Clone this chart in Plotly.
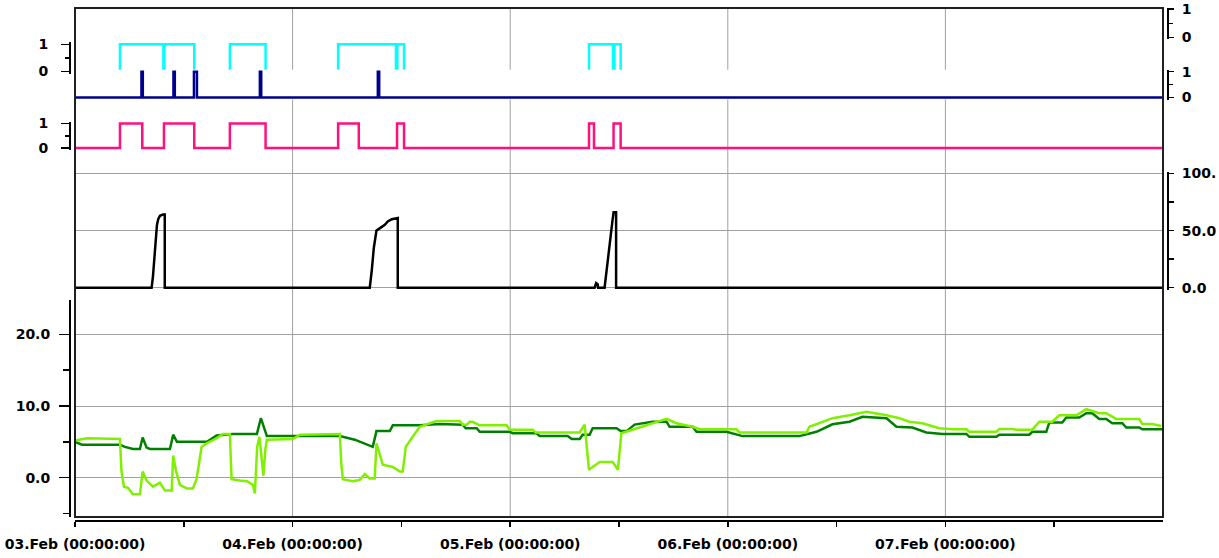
import pandas as pd
import plotly.graph_objects as go

# ---------------- data (hours after 03.Feb 00:00:00) ----------------
START = pd.Timestamp("2010-02-03 00:00:00")
SPAN_HOURS = 120

day_hours = [0, 24, 48, 72, 96]
half_day_hours = [12, 36, 60, 84, 108]

cyan_hours = [0, 4.96, 9.75, 9.85, 13.15, 17.08, 21.02, 29.02, 35.4, 35.55, 36.29,
              56.69, 59.33, 59.5, 60.18, 120]
cyan_state = [0, 1, 0, 1, 0, 1, 0, 1, 0, 1, 0, 1, 0, 1, 0, 0]

navy_hours = [0, 7.33, 7.48, 10.86, 11.01, 13.12, 13.45, 20.39, 20.54, 33.4, 33.55, 120]
navy_state = [0, 1, 0, 1, 0, 1, 0, 1, 0, 1, 0, 0]

pink_hours = [0, 4.96, 7.42, 9.81, 13.15, 17.08, 21.02, 29.02, 31.3, 35.52, 36.29,
              56.69, 57.24, 59.4, 60.18, 120]
pink_state = [0, 1, 0, 1, 0, 1, 0, 1, 0, 1, 0, 1, 0, 1, 0, 0]

black_hours = [0, 8.45, 8.6, 8.82, 9.04, 9.18, 9.37, 9.7, 9.9, 9.9,
               32.51, 32.73, 32.96, 33.25, 33.62, 34.17, 34.5, 34.94, 35.6, 35.6,
               57.31, 57.48, 57.64, 57.7, 58.41, 58.63, 58.86, 59.08, 59.3, 59.41, 59.68, 59.68,
               120]
black_values = [0, 0, 10, 35, 55, 60, 63, 64, 64, 0,
                0, 15, 35, 50, 52, 55, 58, 60, 61, 0,
                0, 4, 3, 0, 0, 15, 35, 50, 60, 66, 66, 0,
                0]

dark_hours = [0, 0.77, 4.96, 5.5, 6.39, 7.16, 7.46, 7.9, 8.27, 10.47, 10.83, 11.24, 14.55,
              15.62, 17.41, 20.06, 20.5, 21.16, 24.03, 29.21, 30.86, 31.96, 32.84, 33.25,
              34.72, 35.05, 38.03, 40.23, 42.76, 43.09, 44.3, 44.64, 47.94, 48.27, 50.92,
              51.25, 54.34, 54.78, 55.66, 55.99, 56.76, 57.09, 59.74, 60.18, 60.84, 61.72,
              63.7, 65.25, 65.58, 68.12, 68.55, 71.86, 72.41, 73.62, 79.91, 81.78, 83.54,
              85.42, 86.85, 89.5, 90.6, 92.36, 93.9, 95.67, 98.31, 98.64, 101.62, 101.95,
              105.26, 105.59, 107.13, 107.46, 108.89, 109.33, 110.77, 111.54, 112.2, 112.97,
              113.74, 114.4, 115.51, 115.95, 117.38, 117.71, 119.92]
dark_values = [5.0, 4.6, 4.6, 4.3, 4.0, 4.0, 5.6, 4.2, 4.0, 4.0, 6.0, 5.0, 5.0,
               5.9, 6.1, 6.1, 8.3, 5.8, 5.8, 5.8, 5.3, 4.7, 4.3, 6.5,
               6.5, 7.3, 7.3, 7.5, 7.4, 6.9, 6.9, 6.4, 6.4, 6.2, 6.2,
               5.8, 5.8, 5.4, 5.4, 6.0, 6.0, 6.9, 6.9, 6.5, 6.5, 7.4,
               7.8, 7.8, 7.1, 7.1, 6.4, 6.4, 6.2, 5.8, 5.8, 6.4, 7.45,
               7.8, 8.5, 8.3, 7.1, 7.0, 6.3, 6.1, 6.1, 5.7, 5.7, 6.0,
               6.0, 6.4, 6.4, 7.7, 7.7, 8.4, 8.4, 9.0, 9.0, 8.2,
               8.2, 7.6, 7.6, 7.0, 7.0, 6.75, 6.75]

light_hours = [0, 1.32, 4.96, 5.12, 5.4, 5.84, 6.39, 7.16, 7.46, 7.9, 8.6, 9.37, 9.92, 10.66,
               10.83, 11.13, 11.57, 12.34, 13.0, 13.41, 13.96, 14.52, 15.62, 16.31, 17.08,
               17.27, 18.19, 18.96, 19.62, 19.84, 20.09, 20.34, 20.56, 20.78, 21.0, 21.16,
               24.03, 24.8, 29.21, 29.37, 29.54, 30.64, 31.41, 31.96, 32.51, 33.06, 33.25,
               33.95, 35.05, 35.82, 36.15, 36.48, 37.25, 38.03, 39.13, 39.9, 42.43, 42.76,
               43.2, 43.54, 43.87, 44.64, 47.61, 47.94, 50.48, 50.81, 55.66, 56.21, 56.69,
               57.86, 59.3, 59.88, 60.26, 61.5, 63.05, 64.15, 65.25, 66.35, 68.12, 68.89,
               72.96, 73.29, 80.68, 81.0, 82.44, 83.54, 85.42, 87.29, 89.5, 90.93, 92.03,
               93.46, 95.34, 96.77, 98.31, 98.64, 101.62, 101.95, 103.38, 103.82, 105.59,
               106.36, 107.79, 108.56, 110.44, 111.54, 112.97, 113.74, 114.84, 117.38,
               117.71, 118.81, 119.8]
light_values = [5.2, 5.5, 5.4, 1.0, -1.25, -1.4, -2.3, -2.3, 0.85, -0.4, -1.25, -0.7, -1.8, -1.8,
                3.1, 1.0, -1.0, -1.5, -1.5, -0.2, 4.3, 4.8, 5.5, 6.1, 6.1,
                -0.2, -0.4, -0.5, -1.0, -2.2, 4.3, 5.7, 3.0, 0.3, 4.0, 5.3,
                5.4, 6.0, 6.1, 2.0, -0.2, -0.5, -0.3, 0.5, -0.1, -0.1, 4.8,
                1.8, 1.5, 0.85, 0.85, 4.3, 5.7, 7.1, 7.6, 7.9, 7.9, 7.4,
                7.4, 7.8, 7.8, 7.3, 7.3, 6.7, 6.7, 6.3, 6.3, 7.4, 1.1,
                2.2, 2.2, 1.1, 6.2, 6.7, 7.4, 7.8, 8.2, 7.6, 7.1, 6.75,
                6.75, 6.3, 6.3, 7.1, 7.8, 8.3, 8.7, 9.2, 8.7, 8.3, 7.8,
                7.6, 6.9, 6.75, 6.75, 6.4, 6.4, 6.8, 6.8, 6.7, 6.7,
                7.8, 7.8, 8.7, 8.7, 9.55, 9.0, 9.0, 8.2, 8.2,
                7.5, 7.5, 7.2]

bottom_ticks = [0, 10, 20]
bottom_ticktext = ["0.0", "10.0", "20.0"]
bottom_minor = [-5, 5, 15]
valve_ticks = [0, 50, 100]
valve_ticktext = ["0.0", "50.0", "100."]
valve_minor = [25, 75]
state_ticks = [0, 1]
state_ticktext = ["0", "1"]


def to_time(hours):
    return [START + pd.Timedelta(hours=h) for h in hours]


# ---------------- layout geometry (page pixels; page body margin removed) ----------------
W, H = 1219, 558
PLOT_L, PLOT_R, PLOT_T, PLOT_B = 70, 1168, 8, 521     # page px of the axes area
ML, MR, MT, MB = PLOT_L, W - PLOT_R, PLOT_T, H - PLOT_B
PH = PLOT_B - PLOT_T
PW = PLOT_R - PLOT_L


def ypaper(px):
    return (PLOT_B - px) / PH


def band(px_lo, px_hi, v_lo, v_hi, pad=2.0):
    """domain / range so that v_lo sits at pixel row px_lo and v_hi at px_hi"""
    scale = (px_lo - px_hi) / (v_hi - v_lo)
    d0 = max(0.0, ypaper(px_lo + pad))
    d1 = min(1.0, ypaper(px_hi - pad))
    r0 = v_lo - (ypaper(px_lo) - d0) * PH / scale
    r1 = v_hi + (d1 - ypaper(px_hi)) * PH / scale
    return [d0, d1], [r0, r1]


FONT = dict(family="DejaVu Sans", size=14, color="black", weight="bold")
GRID = "#a0a0a0"

fig = go.Figure()

fig.add_trace(go.Scatter(x=to_time(dark_hours), y=dark_values, mode="lines",
                         line=dict(color="#008000", width=2.5), yaxis="y"))
fig.add_trace(go.Scatter(x=to_time(light_hours), y=light_values, mode="lines",
                         line=dict(color="#80f000", width=2.5), yaxis="y"))
fig.add_trace(go.Scatter(x=to_time(black_hours), y=black_values, mode="lines",
                         line=dict(color="black", width=2.5), yaxis="y2"))
fig.add_trace(go.Scatter(x=to_time(pink_hours), y=pink_state, mode="lines",
                         line=dict(color="#ff1080", width=2.5, shape="hv"), yaxis="y3"))
fig.add_trace(go.Scatter(x=to_time(navy_hours), y=navy_state, mode="lines",
                         line=dict(color="#000090", width=2.5, shape="hv"), yaxis="y5"))
fig.add_trace(go.Scatter(x=to_time(cyan_hours), y=cyan_state, mode="lines",
                         line=dict(color="#00ffff", width=2.5, shape="hv"), yaxis="y4"))
fig.add_trace(go.Scatter(x=[None], y=[None], mode="lines", yaxis="y6"))

dom_g = [ypaper(517), ypaper(300)]
scale_g = (477.7 - 334.3) / 20
rng_g = [-(517 - 477.7) / scale_g, (477.7 - 300) / scale_g]
dom_b, rng_b = band(287.7, 173.5, 0, 100)
dom_p, rng_p = band(148, 123.5, 0, 1)
dom_c, rng_c = band(71.5, 44.3, 0, 1)
dom_n, rng_n = band(97.5, 71.7, 0, 1)
dom_t, rng_t = band(37.5, 9.0, 0, 1, pad=1.0)


def yax(domain, rng, side, tickvals, ticktext, minor_vals, ticklen, minorlen, grid, standoff):
    return dict(domain=domain, range=rng, anchor="free", position=0 if side == "left" else 1,
                side=side, showline=True, linecolor="black", linewidth=2,
                ticks="outside", ticklen=ticklen, tickwidth=1.5, tickcolor="black",
                tickmode="array", tickvals=tickvals, ticktext=ticktext,
                minor=dict(tickmode="array", tickvals=minor_vals, ticks="outside",
                           ticklen=minorlen, tickcolor="black", tickwidth=1.5, showgrid=False),
                showgrid=grid, gridcolor=GRID, gridwidth=1, zeroline=False,
                tickfont=FONT, ticklabelstandoff=standoff, ticklabeloverflow="allow",
                fixedrange=True, automargin=False)


x_dom = [(75 - PLOT_L) / PW, (1163 - PLOT_L) / PW]

fig.update_layout(
    template="none",
    width=W, height=H, autosize=False,
    margin=dict(l=ML, r=MR, t=MT, b=MB, pad=0),
    paper_bgcolor="white", plot_bgcolor="white",
    showlegend=False,
    xaxis=dict(domain=x_dom, type="date", range=[START, START + pd.Timedelta(hours=SPAN_HOURS)],
               anchor="free", position=0, showline=True, linecolor="black", linewidth=2,
               ticks="outside", ticklen=5, tickwidth=1.5, tickcolor="black",
               tickmode="array", tickvals=to_time(day_hours),
               ticktext=[d.strftime("%d.%b (%H:%M:%S)") for d in to_time(day_hours)],
               minor=dict(tickmode="array", tickvals=to_time(half_day_hours), ticks="outside",
                          ticklen=5, tickcolor="black", tickwidth=1.5, showgrid=False),
               showgrid=False, zeroline=False, tickfont=FONT, ticklabelstandoff=5,
               ticklabeloverflow="allow", fixedrange=True, automargin=False),
    yaxis=yax(dom_g, rng_g, "left", bottom_ticks, bottom_ticktext, bottom_minor, 10, 6, True, 6),
    yaxis2=yax(dom_b, rng_b, "right", valve_ticks, valve_ticktext, valve_minor, 5, 5, True, 5),
    yaxis3=yax(dom_p, rng_p, "left", state_ticks, state_ticktext, [0.5], 8, 4, False, 10),
    yaxis4=yax(dom_c, rng_c, "left", state_ticks, state_ticktext, [0.5], 8, 4, False, 10),
    yaxis5=yax(dom_n, rng_n, "right", state_ticks, state_ticktext, [0.5], 5, 4, False, 5),
    yaxis6=yax(dom_t, rng_t, "right", state_ticks, state_ticktext, [0.5], 5, 4, False, 5),
)

# vertical day grid lines across all panels
for d in to_time(day_hours[1:]):
    fig.add_shape(type="line", xref="x", yref="paper", x0=d, x1=d,
                  y0=ypaper(517), y1=1, line=dict(color=GRID, width=1), layer="below")

# plot frame
fig.add_shape(type="rect", xref="x domain", yref="paper", x0=0, x1=1,
              y0=ypaper(517), y1=1, line=dict(color="#202020", width=2), layer="above")

fig.write_html("out.html", config={"displayModeBar": False, "staticPlot": True},
               post_script="document.body.style.margin='0px';")
